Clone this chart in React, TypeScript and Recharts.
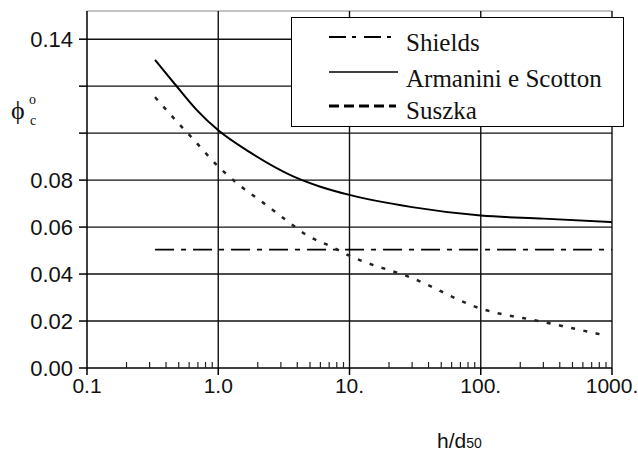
import React from "react";
import { LineChart, Line, XAxis, YAxis, ReferenceLine } from "recharts";

// h/d50 values (log axis) and critical Shields parameter
const shieldsX = [0.33, 1000];
const shieldsY = [0.0504, 0.0504];

const armaniniX = [0.33, 0.47, 0.69, 1.0, 1.75, 3.76, 6, 10, 30, 100, 300, 1000];
const armaniniY = [0.1312, 0.1207, 0.1097, 0.1012, 0.0918, 0.0815, 0.0772, 0.0737, 0.0685, 0.0649, 0.0636, 0.0621];

const suszkaX = [0.33, 0.47, 0.65, 1.0, 1.49, 2.22, 3.25, 4.75, 7.4, 10, 30, 100, 300, 820];
const suszkaY = [0.1153, 0.1057, 0.0972, 0.0858, 0.0773, 0.0702, 0.0632, 0.0565, 0.0515, 0.0478, 0.0383, 0.0253, 0.0196, 0.0143];

const decades = [0.1, 1, 10, 100, 1000];
const decadeLabels = ["0.1", "1.0", "10.", "100.", "1000."];
const yTicks = [0, 0.02, 0.04, 0.06, 0.08, 0.1, 0.12, 0.14];
const yHidden = [0.1, 0.12];

const SANS = "'Liberation Sans', Arial, sans-serif";
const SERIF = "'Liberation Serif', 'Times New Roman', serif";

const toPts = (xs: number[], ys: number[]) => xs.map((x, i) => ({ x, y: ys[i] }));

const xTicks: number[] = [];
[0.1, 1, 10, 100].forEach((d) => {
  xTicks.push(d);
  for (let k = 2; k <= 9; k++) xTicks.push(+(k * d).toPrecision(3));
});
xTicks.push(1000);

function XTick(props: any) {
  const { x, y, payload } = props;
  const v = payload.value;
  const idx = decades.findIndex((d) => Math.abs(d - v) < 1e-9);
  if (idx >= 0) {
    return (
      <g>
        <line x1={x} x2={x} y1={y} y2={y + 7} stroke="#000" strokeWidth={1.5} />
        <text x={x} y={y + 25} textAnchor="middle" fontSize={21} style={{ fontFamily: SANS }} fill="#111">
          {decadeLabels[idx]}
        </text>
      </g>
    );
  }
  return <line x1={x} x2={x} y1={y} y2={y - 6} stroke="#222" strokeWidth={1.2} />;
}

const serifText = { fontFamily: SERIF };

export default function App() {
  return (
    <div style={{ position: "absolute", left: 0, top: 0, width: 638, height: 464, background: "#fff" }}>
      <LineChart width={638} height={464} margin={{ top: 11, right: 26, bottom: 0, left: 0 }}>
        <XAxis
          dataKey="x"
          type="number"
          scale="log"
          domain={[0.1, 1000]}
          ticks={xTicks}
          interval={0}
          allowDataOverflow
          height={96}
          tickSize={0}
          tickMargin={0}
          tickLine={false}
          tick={<XTick />}
          axisLine={{ stroke: "#000", strokeWidth: 1.5 }}
          label={{
            content: () => (
              <text x={437} y={448} fontSize={21} style={{ fontFamily: SANS }} fill="#111">
                h/d
                <tspan fontSize={14}>50</tspan>
              </text>
            ),
          }}
        />
        <YAxis
          type="number"
          domain={[0, 0.152]}
          ticks={yTicks}
          interval={0}
          width={87}
          tickSize={8}
          tickMargin={6}
          tickLine={{ stroke: "#000", strokeWidth: 1.5 }}
          axisLine={{ stroke: "#000", strokeWidth: 1.5 }}
          tick={{ fontSize: 22, fontFamily: SANS, fill: "#111" }}
          tickFormatter={(v: number) => (yHidden.some((h) => Math.abs(h - v) < 1e-9) ? "" : v.toFixed(2))}
          label={{
            content: () => (
              <g style={serifText} fill="#111">
                <text x={11} y={119} fontSize={26}>ϕ</text>
                <text x={29} y={104} fontSize={14}>o</text>
                <text x={30} y={125} fontSize={14}>c</text>
              </g>
            ),
          }}
        />
        {yTicks.slice(1).map((v) => (
          <ReferenceLine key={"h" + v} y={v} stroke="#111" strokeWidth={1.4} />
        ))}
        <ReferenceLine y={0.152} stroke="#888" strokeWidth={1.2} />
        {decades.slice(1).map((v) => (
          <ReferenceLine key={"v" + v} x={v} stroke="#111" strokeWidth={1.4} />
        ))}
        <Line
          data={toPts(shieldsX, shieldsY)}
          dataKey="y"
          type="linear"
          stroke="#000"
          strokeWidth={1.8}
          strokeDasharray="19 7 5 7"
          dot={false}
          isAnimationActive={false}
        />
        <Line
          data={toPts(armaniniX, armaniniY)}
          dataKey="y"
          type="monotone"
          stroke="#000"
          strokeWidth={2}
          dot={false}
          isAnimationActive={false}
        />
        <Line
          data={toPts(suszkaX, suszkaY)}
          dataKey="y"
          type="monotone"
          stroke="#222"
          strokeWidth={2.5}
          strokeDasharray="4 8.5"
          dot={false}
          isAnimationActive={false}
        />
      </LineChart>
      <div
        style={{
          position: "absolute",
          left: 291,
          top: 17,
          width: 333,
          height: 110,
          boxSizing: "border-box",
          border: "1.5px solid #000",
          background: "#fff",
        }}
      >
        <svg width={330} height={107} style={{ display: "block" }}>
          <line x1={37} x2={103} y1={19} y2={19} stroke="#000" strokeWidth={1.8} strokeDasharray="17 6 4 8" />
          <text x={114} y={33} fontSize={25} style={serifText} fill="#111">Shields</text>
          <line x1={37} x2={106} y1={54} y2={54} stroke="#000" strokeWidth={1.5} />
          <text x={114} y={69} fontSize={25} style={serifText} fill="#111">Armanini e Scotton</text>
          <line x1={37} x2={104} y1={88} y2={88} stroke="#000" strokeWidth={3} strokeDasharray="10 5" />
          <text x={114} y={101} fontSize={25} style={serifText} fill="#111">Suszka</text>
        </svg>
      </div>
    </div>
  );
}
